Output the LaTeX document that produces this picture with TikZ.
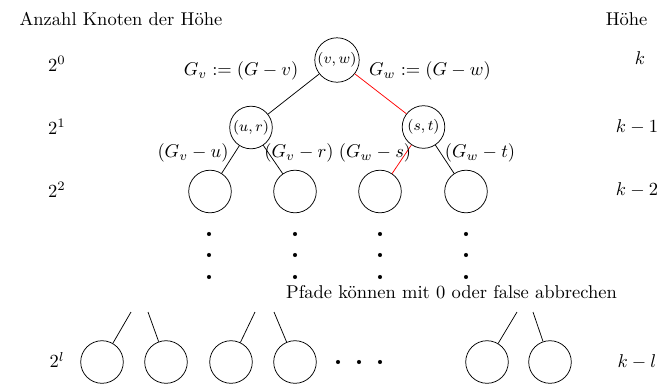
\documentclass[tikz,border=0pt]{standalone}
\usepackage{amsmath}
\begin{document}
\begin{tikzpicture}[x=0.54pt,y=-0.54pt,
knot/.style={draw,circle,minimum size=23pt,inner sep=0pt,font=\footnotesize},
rot/.style={draw=red}]
\useasboundingbox (0,0) rectangle (657,387);
% Kopfzeile
\node[anchor=base west] (titel) at (13,25) {Anzahl Knoten der H\"ohe};
\node[anchor=base east] (hoehe) at (654,25) {H\"ohe};
% Anzahl Knoten und Hoehe je Ebene
\foreach \e/\y in {0/64,1/127,2/190,l/360} \node (n\e) at (57,\y) {$2^\e$};
\node (h0) at (640,58) {$k$};
\foreach \e/\y in {1/127,2/190,l/362} \node (h\e) at (637,\y) {$k-\e$};
% Baum
\node[knot,minimum size=24pt] (vw) at (337,60) {$(v,w)$};
\node[knot] (ur) at (251,127.5) {$(u,r)$};
\node[knot] (st) at (423.5,127) {$(s,t)$};
\foreach \i/\x in {1/210,2/295,3/380,4/466} \node[knot] (a\i) at (\x,191.5) {};
\foreach \i/\x in {1/102,2/166,3/231,4/295,5/487,6/550} \node[knot] (b\i) at (\x,362) {};
\draw (vw) -- (ur);
\draw[rot] (vw) -- (st);
\draw (ur) -- (a1); \draw (ur) -- (a2);
\draw[rot] (st) -- (a3); \draw (st) -- (a4);
\node (lGv) at (241,71) {$G_v := (G-v)$};
\node (lGw) at (430,71) {$G_w := (G-w)$};
\node (lvu) at (193,153) {$(G_v-u)$};
\node (lvr) at (299,153) {$(G_v-r)$};
\node (lws) at (375,153) {$(G_w-s)$};
\node (lwt) at (480,153) {$(G_w-t)$};
% Punkte
\foreach \x in {209,295,380,466} \foreach \y in {234,255,277} \fill (\x,\y) circle (1.1pt);
\foreach \x in {338,359,380} \fill (\x,362) circle (1.1pt);
\node (pfade) at (451.5,292) {Pfade k\"onnen mit 0 oder false abbrechen};
% untere Ebene
\foreach \i/\x in {1/131,2/148,3/255,4/274,5/517,6/533} \coordinate (s\i) at (\x,312);
\foreach \i in {1,...,6} \draw (s\i) -- (b\i);
\end{tikzpicture}
\end{document}
